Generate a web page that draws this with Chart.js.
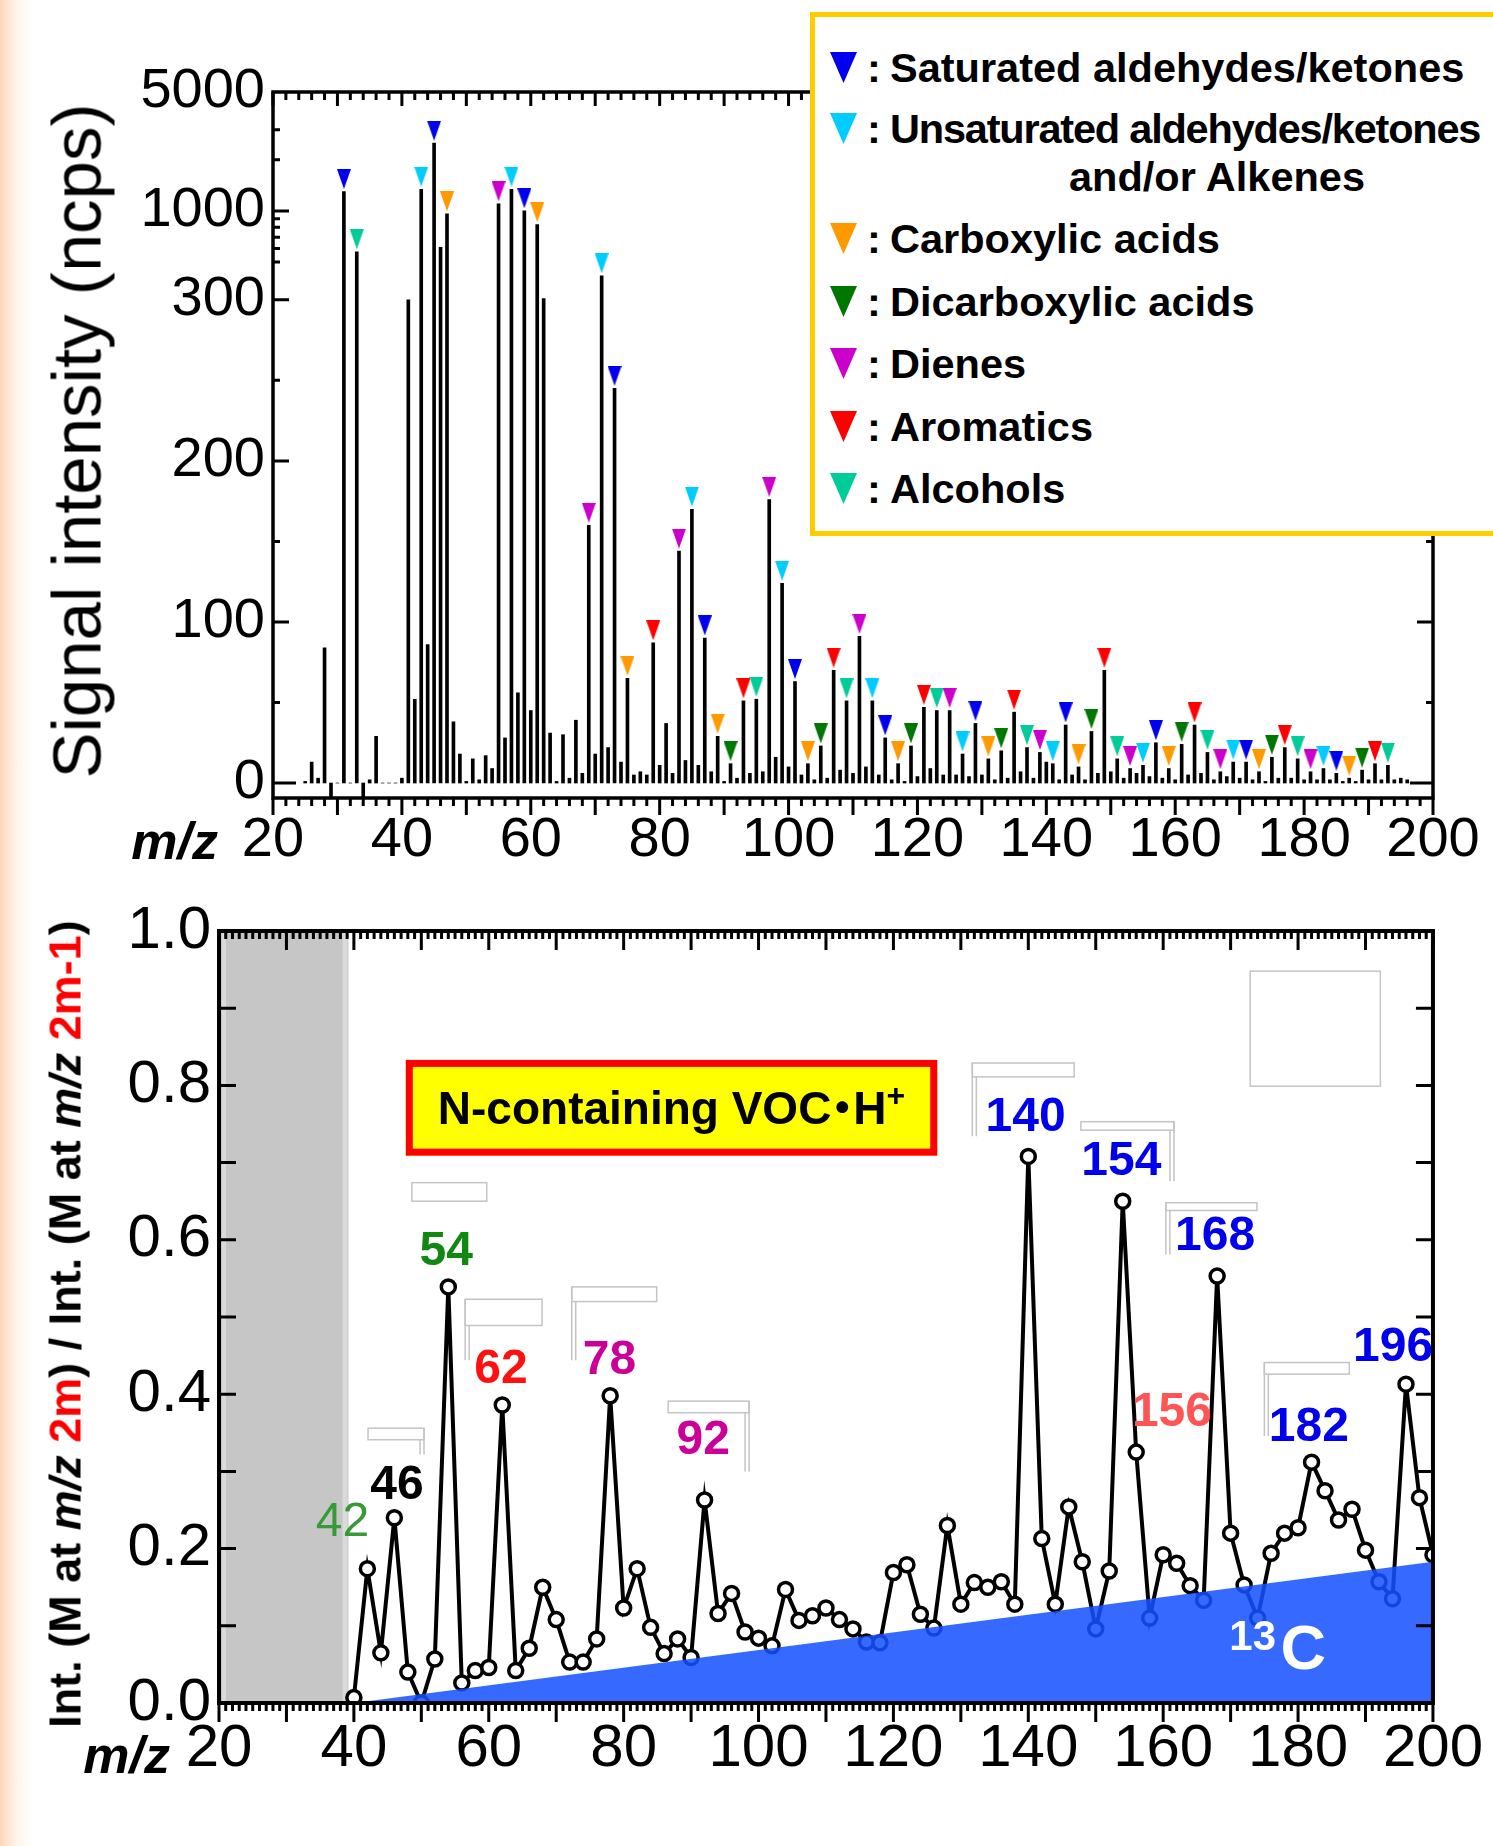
<!DOCTYPE html>
<html lang="en">
<head>
<meta charset="UTF-8">
<title>Mass spectrum and N-containing VOC ratio</title>
<script src="https://cdn.jsdelivr.net/npm/chart.js"></script>
<style>
  html, body { margin: 0; padding: 0; }
  body {
    position: relative; width: 1493px; height: 1846px; overflow: hidden;
    background: linear-gradient(to right, #fcd6b6 0px, #fde4d0 7px, #fff6ee 18px, #ffffff 34px);
    font-family: "Liberation Sans", Arial, sans-serif;
  }
  canvas { position: absolute; left: 0; }
  #spectrum { top: 0; }
  #ratio { top: 880px; }
  .ytitle { position: absolute; white-space: nowrap; line-height: 1; color: #000;
            transform: translate(-50%, -50%) rotate(-90deg); }
  .red { color: #ff0000; }
  #legend { position: absolute; left: 810px; top: 12px; width: 700px; height: 514px;
            border: 5px solid #ffcc00; background: #fff; font-weight: bold; font-size: 41.5px; }
  .row { position: absolute; left: 0; height: 48px; line-height: 48px; white-space: nowrap; }
  .row svg { position: absolute; left: 15px; top: 8px; }
  .row .colon { position: absolute; left: 52px; }
  .row .name { position: absolute; left: 75px; }
  .row .tight { letter-spacing: -1.2px; }
</style>
</head>
<body>
<canvas id="spectrum" width="1493" height="880"></canvas>
<canvas id="ratio" width="1493" height="966"></canvas>
<div class="ytitle" style="left:77px; top:441px; font-size:69px;">Signal intensity (ncps)</div>
<div class="ytitle" style="left:65px; top:1324px; font-size:45px; font-weight:bold;">Int. (M at <i>m/z</i> <span class="red">2m</span>) / Int. (M at <i>m/z</i> <span class="red">2m-1</span>)</div>
<div id="legend"></div>

<script>
// ---------- top panel: stick spectrum ----------
const spectrumMz = [
  25, 26, 27, 28, 29, 30, 31, 32, 33, 34,
  35, 36, 37, 38, 39, 40, 41, 42, 43, 44,
  45, 46, 47, 48, 49, 50, 51, 52, 53, 54,
  55, 56, 57, 58, 59, 60, 61, 62, 63, 64,
  65, 66, 67, 68, 69, 70, 71, 72, 73, 74,
  75, 76, 77, 78, 79, 80, 81, 82, 83, 84,
  85, 86, 87, 88, 89, 90, 91, 92, 93, 94,
  95, 96, 97, 98, 99, 100, 101, 102, 103, 104,
  105, 106, 107, 108, 109, 110, 111, 112, 113, 114,
  115, 116, 117, 118, 119, 120, 121, 122, 123, 124,
  125, 126, 127, 128, 129, 130, 131, 132, 133, 134,
  135, 136, 137, 138, 139, 140, 141, 142, 143, 144,
  145, 146, 147, 148, 149, 150, 151, 152, 153, 154,
  155, 156, 157, 158, 159, 160, 161, 162, 163, 164,
  165, 166, 167, 168, 169, 170, 171, 172, 173, 174,
  175, 176, 177, 178, 179, 180, 181, 182, 183, 184,
  185, 186, 187, 188, 189, 190, 191, 192, 193, 194,
  195, 196
];
// signal intensity (ncps)
const intensity = [
  1, 13, 3, 84, -9, 0, 1300, 0, 575, -9,
  2, 29, 0, 0, 0, 3, 300, 52, 1340, 86,
  2500, 610, 960, 38, 18, 1, 15, 2, 17, 9,
  1100, 28, 1340, 56, 1000, 45, 830, 305, 31, 1,
  30, 3, 39, 6, 160, 18, 415, 22, 245, 13,
  65, 5, 7, 5, 87, 11, 37, 6, 144, 14,
  170, 11, 90, 7, 29, 1, 12, 3, 51, 6,
  52, 7, 176, 16, 124, 10, 63, 5, 12, 2,
  23, 3, 70, 8, 51, 6, 91, 10, 51, 5,
  28, 2, 12, 1, 23, 4, 47, 9, 45, 5,
  45, 5, 18, 4, 37, 5, 15, 2, 20, 3,
  44, 7, 22, 3, 19, 13, 12, 2, 36, 5,
  10, 2, 32, 6, 70, 7, 15, 3, 9, 6,
  11, 4, 25, 3, 9, 2, 24, 5, 36, 6,
  19, 2, 7, 4, 13, 3, 13, 2, 7, 1,
  16, 3, 22, 3, 15, 2, 7, 2, 9, 2,
  6, 1, 3, 1, 8, 2, 12, 2, 11, 2,
  3, 2
];
const yTickLabels = [0, 100, 200, 300, 1000, 5000];
const yMajorMarks = [100, 200, 300, 1000];
const yMinorMarks = [50, 150, 250, 500, 600, 700, 800, 900, 2000, 3000];

// compound classes (m/z of marked peaks)
const categoryNames = ['Saturated aldehydes/ketones', 'Unsaturated aldehydes/ketones', 'Carboxylic acids',
  'Dicarboxylic acids', 'Dienes', 'Aromatics', 'Alcohols'];
const categoryColors = ['#0000ee', '#00ccff', '#ff9900', '#007700', '#cc00cc', '#ff0000', '#00cc99'];
const saturatedMz = [31, 45, 59, 73, 87, 101, 115, 129, 143, 157, 171, 185];
const unsaturatedMz = [43, 57, 71, 85, 99, 113, 127, 141, 155, 169, 183];
const carboxylicMz = [47, 61, 75, 89, 103, 117, 131, 145, 159, 173, 187];
const dicarboxylicMz = [91, 105, 119, 133, 147, 161, 175, 189];
const dieneMz = [55, 69, 83, 97, 111, 125, 139, 153, 167, 181];
const aromaticMz = [79, 93, 107, 121, 135, 149, 163, 177, 191];
const alcoholMz = [33, 95, 109, 123, 137, 151, 165, 179, 193];
const categoryMz = [saturatedMz, unsaturatedMz, carboxylicMz, dicarboxylicMz, dieneMz, aromaticMz, alcoholMz];

// ---------- bottom panel: Int(2m)/Int(2m-1) ----------
const ratioMz = [
  40, 42, 44, 46, 48, 50, 52, 54, 56, 58,
  60, 62, 64, 66, 68, 70, 72, 74, 76, 78,
  80, 82, 84, 86, 88, 90, 92, 94, 96, 98,
  100, 102, 104, 106, 108, 110, 112, 114, 116, 118,
  120, 122, 124, 126, 128, 130, 132, 134, 136, 138,
  140, 142, 144, 146, 148, 150, 152, 154, 156, 158,
  160, 162, 164, 166, 168, 170, 172, 174, 176, 178,
  180, 182, 184, 186, 188, 190, 192, 194, 196, 198,
  200
];
const ratio = [
  0.007, 0.174, 0.065, 0.240, 0.040, 0.000, 0.057, 0.539, 0.026, 0.042,
  0.046, 0.386, 0.042, 0.071, 0.150, 0.108, 0.053, 0.053, 0.083, 0.398,
  0.123, 0.174, 0.098, 0.064, 0.083, 0.059, 0.263, 0.116, 0.142, 0.092,
  0.084, 0.074, 0.147, 0.107, 0.113, 0.123, 0.108, 0.096, 0.079, 0.078,
  0.169, 0.179, 0.115, 0.097, 0.230, 0.128, 0.156, 0.150, 0.157, 0.128,
  0.708, 0.213, 0.128, 0.254, 0.183, 0.096, 0.171, 0.650, 0.325, 0.110,
  0.192, 0.181, 0.152, 0.133, 0.553, 0.220, 0.153, 0.110, 0.194, 0.220,
  0.227, 0.312, 0.275, 0.237, 0.251, 0.198, 0.157, 0.135, 0.413, 0.266,
  0.192
];
// expected 13C isotope contribution (edge of blue area)
const c13Mz = [40, 200];
const c13Ratio = [0, 0.183];
const excludedRange = [20, 39.2];

// peak labels: text, m/z, ratio of text centre, colour, weight
const peakLabels = [
  ['42', 38.3, 0.233, '#379a37', 'normal'],
  ['46', 46.4, 0.282, '#000000', 'bold'],
  ['54', 53.7, 0.584, '#118811', 'bold'],
  ['62', 61.8, 0.432, '#ff1010', 'bold'],
  ['78', 77.9, 0.443, '#cc0099', 'bold'],
  ['92', 91.8, 0.340, '#cc0099', 'bold'],
  ['140', 139.6, 0.758, '#0000ee', 'bold'],
  ['154', 153.8, 0.701, '#0000ee', 'bold'],
  ['156', 161.3, 0.376, '#ff5555', 'bold'],
  ['168', 167.7, 0.604, '#0000ee', 'bold'],
  ['182', 181.6, 0.357, '#0000ee', 'bold'],
  ['196', 194.1, 0.460, '#0000ee', 'bold']
];
// faint leftover brackets: m/z from, m/z to, top, bottom, side of the stem, stem end
const brackets = [
  [48.6, 59.7, 0.674, 0.650, null, 0],
  [42.1, 50.4, 0.356, 0.341, 'r', 0.322],
  [56.5, 67.9, 0.523, 0.489, 'l', 0.444],
  [72.3, 84.9, 0.539, 0.520, 'l', 0.444],
  [86.6, 98.6, 0.391, 0.376, 'r', 0.300],
  [131.7, 146.8, 0.829, 0.811, 'l', 0.734],
  [147.8, 161.6, 0.753, 0.742, 'r', 0.676],
  [160.4, 173.9, 0.648, 0.638, 'l', 0.581],
  [175.0, 187.6, 0.441, 0.426, 'l', 0.346],
  [172.9, 192.2, 0.948, 0.799, null, 0]
];

const FONT = '"Liberation Sans", Arial, sans-serif';
Chart.defaults.font.family = FONT;
Chart.defaults.color = '#000';

// linear up to 300 ncps, logarithmic above
const LIN_TOP = 300;
const DECADE = 1.056;
function toAxis(v) {
  return v <= LIN_TOP ? v / 100 : 3 + Math.log10(v / LIN_TOP) * DECADE;
}
const MARK_GAP = 0.078;

function triangleImage(color) {
  const c = document.createElement('canvas');
  c.width = 14; c.height = 20;
  const g = c.getContext('2d');
  g.fillStyle = color;
  g.beginPath();
  g.moveTo(0, 0); g.lineTo(14, 0); g.lineTo(7, 20); g.closePath();
  g.fill();
  return c;
}

const spectrumFrame = {
  id: 'spectrumFrame',
  afterDatasetsDraw(chart) {
    const { ctx, chartArea: a, scales: { x, y } } = chart;
    ctx.save();
    ctx.strokeStyle = '#000';
    ctx.lineWidth = 3.5;
    ctx.strokeRect(a.left, a.top, a.right - a.left, a.bottom - a.top);
    ctx.lineWidth = 3;
    ctx.beginPath();
    for (let m = 20; m <= 200; m += 2) {
      const px = x.getPixelForValue(m);
      const major = m % 10 === 0;
      ctx.moveTo(px, a.bottom); ctx.lineTo(px, a.bottom + (major ? 17 : 8));
      ctx.moveTo(px, a.top); ctx.lineTo(px, a.top + (major ? 14 : 8));
    }
    const marks = [[0, 23]].concat(yMajorMarks.map(v => [v, 16]), yMinorMarks.map(v => [v, 7]));
    marks.forEach(([v, len]) => {
      const py = y.getPixelForValue(toAxis(v));
      ctx.moveTo(a.left, py); ctx.lineTo(a.left + len, py);
      ctx.moveTo(a.right, py); ctx.lineTo(a.right - len, py);
    });
    ctx.stroke();
    ctx.fillStyle = '#000';
    ctx.font = 'italic bold 52px ' + FONT;
    ctx.textAlign = 'right';
    ctx.textBaseline = 'alphabetic';
    ctx.fillText('m/z', a.left - 55, a.bottom + 61);
    ctx.restore();
  }
};

new Chart(document.getElementById('spectrum'), {
  type: 'bar',
  data: {
    datasets: [
      {
        type: 'bar',
        data: spectrumMz.map((m, i) => ({ x: m, y: toAxis(intensity[i]) })),
        backgroundColor: '#000',
        barThickness: 3,
        grouped: false,
        order: 2
      },
      ...categoryMz.map((list, k) => ({
        type: 'scatter',
        data: list.map(m => ({ x: m, y: toAxis(intensity[spectrumMz.indexOf(m)]) + MARK_GAP })),
        pointStyle: triangleImage(categoryColors[k]),
        pointRadius: 8,
        order: 1
      }))
    ]
  },
  options: {
    responsive: false,
    animation: false,
    layout: { padding: { top: 92, right: 60, left: 0, bottom: 0 } },
    plugins: { legend: { display: false }, tooltip: { enabled: false } },
    scales: {
      x: {
        type: 'linear', min: 20, max: 200, offset: false,
        grid: { display: false, drawTicks: false }, border: { display: false },
        ticks: { stepSize: 20, maxRotation: 0, padding: 9, font: { size: 56 } },
        afterFit(s) { s.height = 82; }
      },
      y: {
        min: toAxis(-9.3), max: toAxis(5000),
        grid: { display: false, drawTicks: false }, border: { display: false },
        afterBuildTicks(s) { s.ticks = yTickLabels.map(v => ({ value: toAxis(v) })); },
        ticks: { padding: 8, font: { size: 56 }, callback: (val, i) => String(yTickLabels[i]) },
        afterFit(s) { s.width = 273; }
      }
    }
  },
  plugins: [spectrumFrame]
});

// ---------- bottom chart ----------
const ratioDecor = {
  id: 'ratioDecor',
  beforeDatasetsDraw(chart) {
    const { ctx, chartArea: a, scales: { x, y } } = chart;
    ctx.save();
    const x0 = x.getPixelForValue(excludedRange[0]), x1 = x.getPixelForValue(excludedRange[1]);
    ctx.fillStyle = '#c6c6c6';
    ctx.fillRect(x0, a.top, x1 - x0, a.bottom - a.top);
    ctx.fillStyle = '#dadada';
    ctx.fillRect(x1 - 6, a.top, 5, a.bottom - a.top);
    ctx.fillRect(x0 + 3, a.top, 4, a.bottom - a.top);
    ctx.strokeStyle = '#c4c4c4';
    ctx.lineWidth = 1.5;
    brackets.forEach(([m0, m1, top, bot, side, end]) => {
      const l = x.getPixelForValue(m0), r = x.getPixelForValue(m1);
      const t = y.getPixelForValue(top), b = y.getPixelForValue(bot);
      ctx.strokeRect(l, t, r - l, b - t);
      if (side) {
        const sx = side === 'l' ? l : r;
        ctx.beginPath();
        ctx.moveTo(sx, t); ctx.lineTo(sx, y.getPixelForValue(end));
        ctx.moveTo(sx + (side === 'l' ? 4 : -4), b); ctx.lineTo(sx + (side === 'l' ? 4 : -4), y.getPixelForValue(end));
        ctx.stroke();
      }
    });
    ctx.restore();
  },
  afterDatasetsDraw(chart) {
    const { ctx, chartArea: a, scales: { x, y } } = chart;
    ctx.save();
    // frame and ticks
    ctx.strokeStyle = '#000';
    ctx.lineWidth = 4;
    ctx.strokeRect(a.left, a.top, a.right - a.left, a.bottom - a.top);
    ctx.lineWidth = 3;
    ctx.beginPath();
    for (let m = 20; m <= 200; m += 1) {
      const px = x.getPixelForValue(m);
      const major = m % 10 === 0;
      ctx.moveTo(px, a.bottom); ctx.lineTo(px, a.bottom + (major ? 19 : 8));
      ctx.moveTo(px, a.top); ctx.lineTo(px, a.top + (major ? 19 : 8));
    }
    for (let k = 1; k < 10; k++) {
      const py = y.getPixelForValue(k / 10);
      ctx.moveTo(a.left, py); ctx.lineTo(a.left + 17, py);
      ctx.moveTo(a.right, py); ctx.lineTo(a.right - 17, py);
    }
    ctx.stroke();

    // peak labels
    ctx.textAlign = 'center';
    ctx.textBaseline = 'middle';
    peakLabels.forEach(([t, m, r, color, weight]) => {
      ctx.font = weight + ' 48px ' + FONT;
      ctx.fillStyle = color;
      ctx.fillText(t, x.getPixelForValue(m), y.getPixelForValue(r));
    });

    // N-containing box
    const bl = x.getPixelForValue(47.7), br = x.getPixelForValue(126.5);
    const bt = y.getPixelForValue(0.833), bb = y.getPixelForValue(0.709);
    ctx.fillStyle = '#ffff00';
    ctx.fillRect(bl, bt, br - bl, bb - bt);
    ctx.strokeStyle = '#ff0000';
    ctx.lineWidth = 7;
    ctx.strokeRect(bl + 3.5, bt + 3.5, br - bl - 7, bb - bt - 7);
    const bigFont = 'bold 46px ' + FONT + ', "Noto Sans CJK JP"';
    const supFont = 'bold 32px ' + FONT;
    ctx.font = bigFont;
    const w1 = ctx.measureText('N-containing VOC').width;
    const wDot = ctx.measureText('・').width;
    const wH = ctx.measureText('H').width;
    ctx.font = supFont;
    const wSup = ctx.measureText('+').width;
    const dotW = 22;   // tightened width of the middle dot
    const total = w1 + dotW + wH + wSup;
    const cx = (bl + br) / 2, cy = (bt + bb) / 2;
    const sx = cx - total / 2;
    ctx.textAlign = 'left';
    ctx.textBaseline = 'alphabetic';
    ctx.fillStyle = '#000';
    ctx.font = bigFont;
    ctx.fillText('N-containing VOC', sx, cy + 16);
    ctx.fillText('・', sx + w1 + dotW / 2 - wDot / 2, cy + 16);
    ctx.fillText('H', sx + w1 + dotW, cy + 16);
    ctx.font = supFont;
    ctx.fillText('+', sx + w1 + dotW + wH, cy - 2);

    // 13C
    ctx.fillStyle = '#ffffff';
    ctx.font = 'bold 42px ' + FONT;
    ctx.fillText('13', x.getPixelForValue(169.8), y.getPixelForValue(0.069));
    ctx.font = 'bold 63px ' + FONT;
    ctx.fillText('C', x.getPixelForValue(177.4), y.getPixelForValue(0.044));

    // m/z
    ctx.fillStyle = '#000';
    ctx.font = 'italic bold 52px ' + FONT;
    ctx.textAlign = 'right';
    ctx.fillText('m/z', a.left - 49, a.bottom + 70);
    ctx.restore();
  }
};

new Chart(document.getElementById('ratio'), {
  type: 'line',
  data: {
    datasets: [
      {
        data: ratioMz.map((m, i) => ({ x: m, y: ratio[i] })),
        borderColor: '#000',
        borderWidth: 4,
        pointRadius: 7,
        pointBorderWidth: 3.5,
        pointBackgroundColor: '#fff',
        pointBorderColor: '#000',
        tension: 0,
        order: 1
      },
      {
        data: c13Mz.map((m, i) => ({ x: m, y: c13Ratio[i] })),
        borderWidth: 0,
        pointRadius: 0,
        fill: 'origin',
        backgroundColor: 'rgba(20, 80, 255, 0.86)',
        order: 0
      }
    ]
  },
  options: {
    responsive: false,
    animation: false,
    layout: { padding: { top: 51, right: 60, left: 0, bottom: 0 } },
    plugins: { legend: { display: false }, tooltip: { enabled: false } },
    scales: {
      x: {
        type: 'linear', min: 20, max: 200,
        grid: { display: false, drawTicks: false }, border: { display: false },
        ticks: { stepSize: 20, maxRotation: 0, padding: 10, font: { size: 60 } },
        afterFit(s) { s.height = 143; }
      },
      y: {
        min: 0, max: 1,
        grid: { display: false, drawTicks: false }, border: { display: false },
        ticks: { stepSize: 0.2, padding: 8, font: { size: 60 }, callback: v => v.toFixed(1) },
        afterFit(s) { s.width = 219; }
      }
    }
  },
  plugins: [ratioDecor]
});

// ---------- legend box ----------
const legendRowCenters = [51, 112, 222, 285, 347, 410, 472];
const legendEl = document.getElementById('legend');
categoryNames.forEach((name, k) => {
  const row = document.createElement('div');
  row.className = 'row';
  row.style.top = (legendRowCenters[k] - 24) + 'px';
  row.style.width = '700px';
  row.innerHTML = '<svg width="27" height="31"><polygon points="0,0 27,0 13.5,31" fill="' + categoryColors[k] + '"/></svg>' +
    '<span class="colon">:</span><span class="name' + (k === 1 ? ' tight' : '') + '">' + name + '</span>';
  legendEl.appendChild(row);
});
const extra = document.createElement('div');
extra.className = 'row';
extra.style.top = (160 - 24) + 'px';
extra.innerHTML = '<span class="name" style="left:254px">and/or Alkenes</span>';
legendEl.appendChild(extra);
</script>
</body>
</html>
